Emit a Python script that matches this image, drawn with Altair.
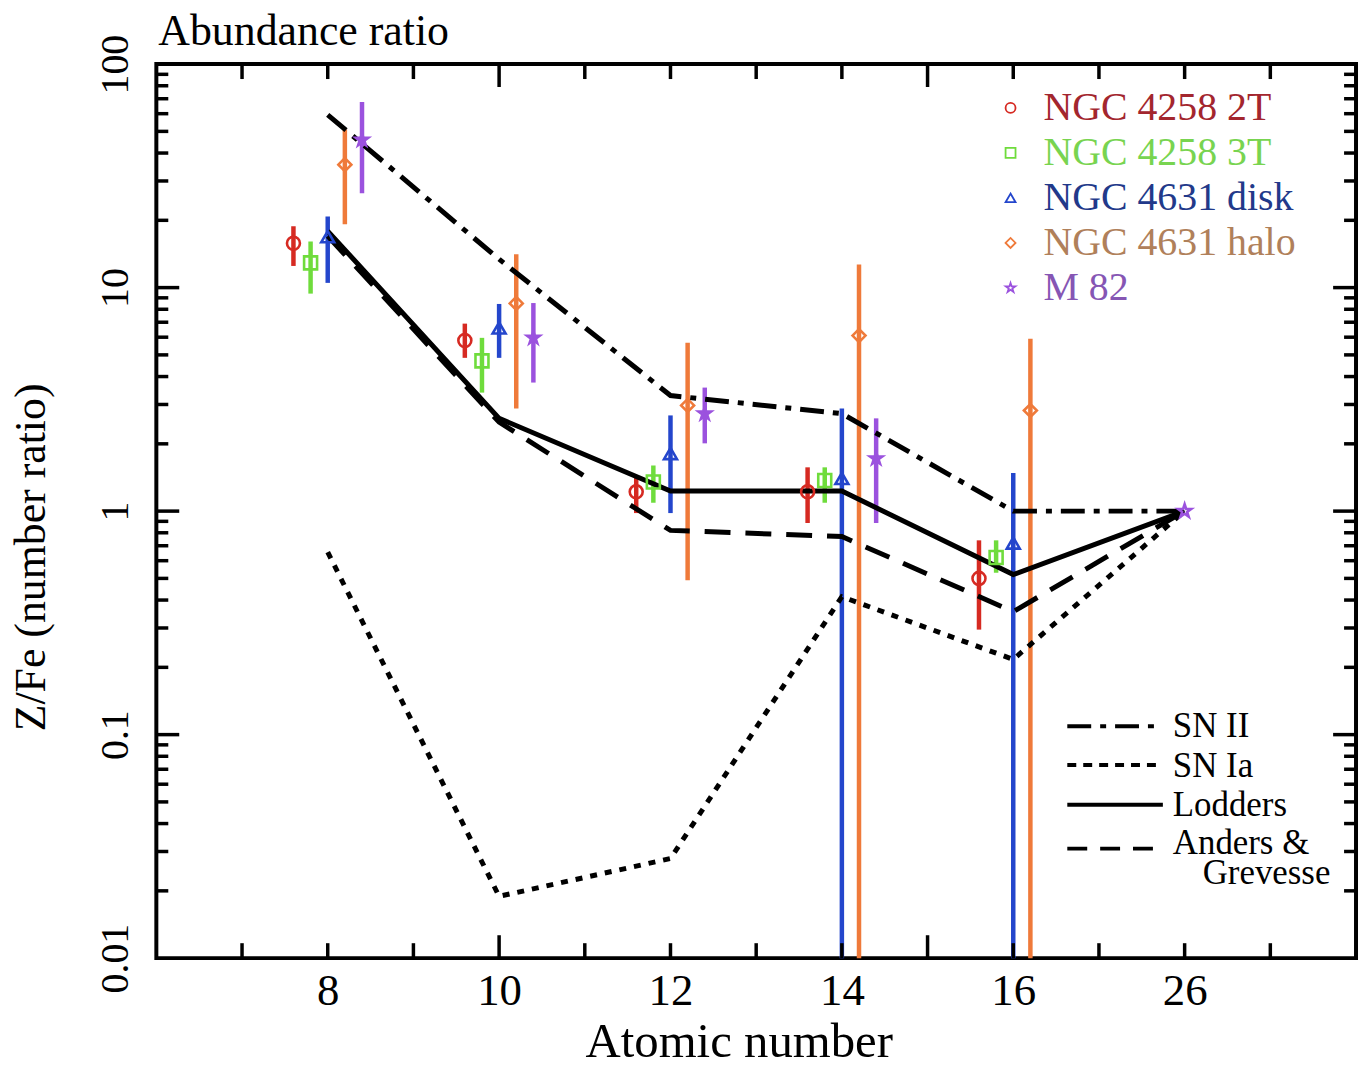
import altair as alt
import pandas as pd

# ---------------- data ----------------
Z = [8, 10, 12, 14, 16, 26]                      # atomic numbers (broken axis: 26 sits in the 6th slot)
series = ["NGC 4258 2T", "NGC 4258 3T", "NGC 4631 disk", "NGC 4631 halo", "M 82"]

# measurements at Z = 8, 10, 12, 14, 16  (None = no measurement)
val_2T = [15.8, 5.8, 1.22, 1.22, 0.50]
lo_2T = [12.5, 4.85, 0.98, 0.885, 0.295]
hi_2T = [18.8, 6.9, 1.42, 1.57, 0.74]

val_3T = [12.9, 4.7, 1.35, 1.37, 0.62]
lo_3T = [9.4, 3.39, 1.09, 1.09, 0.53]
hi_3T = [16.1, 5.96, 1.6, 1.57, 0.74]

val_disk = [16.9, 6.6, 1.81, 1.4, 0.72]
lo_disk = [10.5, 4.85, 0.98, 0.001, 0.001]
hi_disk = [20.8, 8.45, 2.68, 2.88, 1.48]

val_halo = [35.5, 8.5, 2.97, 6.1, 2.82]
lo_halo = [19.2, 2.88, 0.49, 0.001, 0.001]
hi_halo = [51.0, 14.1, 5.66, 12.7, 5.9]

val_m82 = [45.8, 5.96, 2.73, 1.72, None]
lo_m82 = [26.4, 3.76, 2.01, 0.885, None]
hi_m82 = [67.7, 8.53, 3.57, 2.6, None]

fe_value = 1.0   # every ratio is normalised to Fe

# model abundance patterns at Z = 8, 10, 12, 14, 16, 26
sn2 = [59.3, 13.4, 3.29, 2.73, 1.0, 1.0]
sn1a = [0.656, 0.0189, 0.0279, 0.414, 0.217, 1.0]
lodders = [17.9, 2.6, 1.23, 1.23, 0.52, 1.0]
anders = [17.0, 2.5, 0.82, 0.77, 0.355, 1.0]

chart_title = "Abundance ratio"
model_names = ["SN II", "SN Ia", "Lodders", "Anders &", "Grevesse"]

# ---------------- styles ----------------
FONT = "Liberation Serif"
marker_colors = ["#d62a22", "#6fdc3c", "#2446cc", "#ef7a3a", "#9b52de"]
text_colors = ["#a3262e", "#78d450", "#22398a", "#b0805a", "#8656b4"]
STAR = "M0,-1L0.2245,-0.309L0.951,-0.309L0.363,0.118L0.588,0.809L0,0.382L-0.588,0.809L-0.363,0.118L-0.951,-0.309L-0.2245,-0.309Z"
shapes = ["circle", "square", "triangle-up", "diamond", STAR]
dodge = [-0.4, -0.2, 0.0, 0.2, 0.4]
W, H = 1205, 898

slots = [8 + 2 * i for i in range(len(Z))]

rows = []
for si, (v, lo, hi) in enumerate([(val_2T, lo_2T, hi_2T), (val_3T, lo_3T, hi_3T),
                                  (val_disk, lo_disk, hi_disk), (val_halo, lo_halo, hi_halo),
                                  (val_m82, lo_m82, hi_m82)]):
    for ei in range(5):
        if v[ei] is None:
            continue
        rows.append({"series": series[si], "x": slots[ei] + dodge[si],
                     "val": v[ei], "lo": lo[ei], "hi": hi[ei]})
meas = pd.DataFrame(rows)
fe = pd.DataFrame({"series": ["M 82"], "x": [slots[5]], "val": [fe_value]})

xscale = alt.Scale(domain=[6, 20], nice=False, zero=False)
yscale = alt.Scale(type="log", domain=[0.01, 100], nice=False)
label_map = "[" + ",".join("'%d'" % z for z in Z) + "][(datum.value - 8) / 2]"
xaxis = alt.Axis(values=slots, labelExpr=label_map, ticks=False, tickSize=0, domain=False, grid=False,
                 labelFont=FONT, labelFontSize=45, labelColor="black", labelBaseline="alphabetic",
                 labelPadding=47, labelFlush=False, labelOverlap=False,
                 title="Atomic number", titleFont=FONT, titleFontSize=49, titleFontWeight="normal",
                 titleColor="black", titleX=585, titleY=99, titleBaseline="alphabetic", titleAlign="center")
yaxis = alt.Axis(values=[0.01, 0.1, 1, 10, 100], format="~g", ticks=False, tickSize=0, domain=False,
                 grid=False, labelFont=FONT, labelFontSize=40, labelColor="black", labelAngle=270,
                 labelAlign="center", labelBaseline="alphabetic", labelPadding=29, labelFlush=False,
                 labelOverlap=False,
                 title="Z/Fe (number ratio)", titleFont=FONT, titleFontSize=44, titleFontWeight="normal",
                 titleColor="black", titleAngle=270, titleX=-125, titleY=495, titleAlign="center",
                 titleBaseline="middle")

def X(f):
    return alt.X(f, type="quantitative", scale=xscale, axis=xaxis)

def Y(f):
    return alt.Y(f, type="quantitative", scale=yscale, axis=yaxis)

color = alt.Color("series:N", scale=alt.Scale(domain=series, range=marker_colors), legend=None)
shape = alt.Shape("series:N", scale=alt.Scale(domain=series, range=shapes), legend=None)

errbars = alt.Chart(meas).mark_rule(clip=True, strokeWidth=4.5).encode(
    x=X("x"), y=Y("lo"), y2="hi", color=color)

points = alt.Chart(meas).mark_point(filled=False, size=170, strokeWidth=2.6, opacity=1).encode(
    x=X("x"), y=Y("val"), color=color, shape=shape)
fe_point = alt.Chart(fe).mark_point(filled=False, size=190, strokeWidth=2.6, opacity=1).encode(
    x=X("x"), y=Y("val"), color=color, shape=shape)

def model_line(vals, dash):
    df = pd.DataFrame({"x": slots, "v": vals})
    kw = dict(color="black", strokeWidth=5, clip=True)
    if dash:
        kw["strokeDash"] = dash
    return alt.Chart(df).mark_line(**kw).encode(x=X("x"), y=Y("v"))

lines = [model_line(sn2, [24, 9, 6, 9]), model_line(sn1a, [7, 8]),
         model_line(lodders, None), model_line(anders, [26, 15])]

# ---- inward ticks on all four sides ----
x_minor = [t for t in range(7, 20) if t not in (10, 15)]
x_major = [10, 15]
y_major = [0.1, 1, 10]
y_minor = [m * 10 ** e for e in (-2, -1, 0, 1) for m in range(2, 10)]

def xticks(vals, length):
    df = pd.DataFrame({"t": vals})
    b = alt.Chart(df).mark_rule(color="black", strokeWidth=3.5).encode(
        x=X("t"), y=alt.value(H), y2=alt.value(H - length))
    t = alt.Chart(df).mark_rule(color="black", strokeWidth=3.5).encode(
        x=X("t"), y=alt.value(0), y2=alt.value(length))
    return [b, t]

def yticks(vals, length):
    df = pd.DataFrame({"t": vals})
    l = alt.Chart(df).mark_rule(color="black", strokeWidth=3.5).encode(
        y=Y("t"), x=alt.value(0), x2=alt.value(length))
    r = alt.Chart(df).mark_rule(color="black", strokeWidth=3.5).encode(
        y=Y("t"), x=alt.value(W), x2=alt.value(W - length))
    return [l, r]

ticks = xticks(x_minor, 15) + xticks(x_major, 23) + yticks(y_minor, 12) + yticks(y_major, 23)

# ---- title ----
one = pd.DataFrame({"k": [0]})
title_txt = alt.Chart(one).mark_text(
    align="left", baseline="alphabetic", font=FONT, fontSize=44, color="black", text=chart_title
).encode(x=alt.value(2), y=alt.value(-19))

# ---- legend: data sets ----
leg = pd.DataFrame({"series": series, "row": list(range(len(series))), "tc": text_colors})
leg_sym = alt.Chart(leg).transform_calculate(py="datum.row * 45.2 + 44").mark_point(
    filled=False, size=100, strokeWidth=1.8, opacity=1).encode(
    x=alt.value(858), y=alt.Y("py:Q", scale=None), color=color, shape=shape)
leg_txt = alt.Chart(leg).transform_calculate(py="datum.row * 45.2 + 44").mark_text(
    align="left", baseline="middle", font=FONT, fontSize=40).encode(
    x=alt.value(891), y=alt.Y("py:Q", scale=None), text="series:N",
    color=alt.Color("tc:N", scale=None))

# ---- legend: models ----
def leg_line(py, dash):
    kw = dict(color="black", strokeWidth=4)
    if dash:
        kw["strokeDash"] = dash
    return alt.Chart(one).mark_rule(**kw).encode(x=alt.value(915), x2=alt.value(1011), y=alt.value(py))

leg2_lines = [leg_line(665, [24, 9, 6, 9]), leg_line(704, [9, 7]),
              leg_line(744, None), leg_line(788, [20, 13])]
leg2_df = pd.DataFrame({"name": model_names, "row": list(range(5))})
leg2_txt = alt.Chart(leg2_df).transform_calculate(
    py="[665, 705, 744, 782, 813][datum.row]",
    px="datum.row == 4 ? 1051 : 1021").mark_text(
    align="left", baseline="middle", font=FONT, fontSize=35, color="black").encode(
    x=alt.X("px:Q", scale=None), y=alt.Y("py:Q", scale=None), text="name:N")

chart = alt.layer(
    errbars, *lines, points, fe_point, *ticks, title_txt, leg_sym, leg_txt, *leg2_lines, leg2_txt
).properties(
    width=W, height=H,
    autosize=alt.AutoSizeParams(type="none"),
    padding={"left": 149, "top": 54, "right": 4, "bottom": 106},
).configure_view(stroke="black", strokeWidth=4)

chart.save("out.html", embed_options={"renderer": "svg", "actions": False})
